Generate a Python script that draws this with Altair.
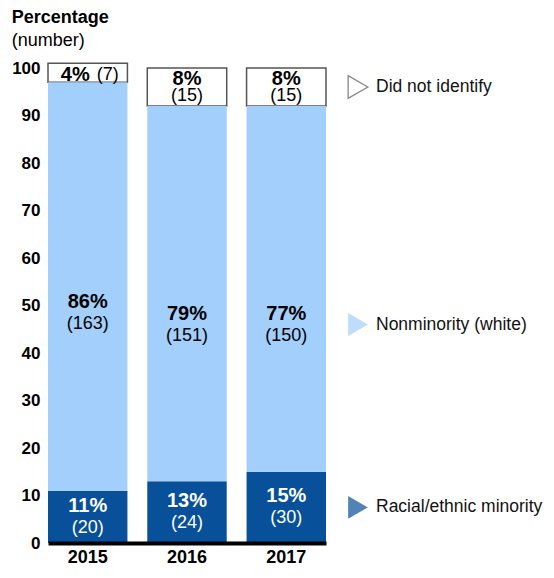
import altair as alt
import pandas as pd

years = ["2015", "2016", "2017"]
categories = ["Racial/ethnic minority", "Nonminority (white)", "Did not identify"]
minority_pct = [11, 13, 15]
minority_n = [20, 24, 30]
nonminority_pct = [86, 79, 77]
nonminority_n = [163, 151, 150]
dni_pct = [4, 8, 8]
dni_n = [7, 15, 15]
y_ticks = list(range(0, 101, 10))
colors = ["#08509a", "#a3cffc", "#ffffff"]

FONT = "Liberation Sans"

rows = []
for i, yr in enumerate(years):
    base = 0
    pcts = [minority_pct[i], nonminority_pct[i], dni_pct[i]]
    ns = [minority_n[i], nonminority_n[i], dni_n[i]]
    for order, (cat, p, n) in enumerate(zip(categories, pcts, ns)):
        rows.append(dict(year=yr, cat=cat, order=order, pct=p, n=n, y0=base, y1=base + p))
        base += p
df = pd.DataFrame(rows)
df["anchor"] = [(r.y1 / 2) if r.cat == "Nonminority (white)" else (r.y0 + r.y1) / 2 for r in df.itertuples()]
df["pct_label"] = df["pct"].astype(str) + "%"
df["n_label"] = "(" + df["n"].astype(str) + ")"

xax = alt.Axis(title=None, labelAngle=0, labelFont=FONT, labelFontSize=18, labelFontWeight="bold",
               labelColor="black", labelPadding=5, ticks=False, domainColor="black", domainWidth=4,
               zindex=1)
yax = alt.Axis(title=None, values=y_ticks, labelFont=FONT, labelFontSize=17, labelFontWeight="bold",
               labelColor="black", labelPadding=8, ticks=False, domain=False, grid=False)
xenc = alt.X("year:N", scale=alt.Scale(paddingInner=0.2, paddingOuter=0), axis=xax)
yscale = alt.Scale(domain=[0, 100], nice=False)
cscale = alt.Scale(domain=categories, range=colors)

base = alt.Chart(df)

dni_box = base.transform_filter(alt.datum.cat == "Did not identify").mark_bar(
    stroke="#555555", strokeWidth=1.5, fill="white"
).encode(x=xenc, y=alt.Y("y0:Q", scale=yscale, axis=yax), y2="y1:Q")

bars = base.transform_filter(alt.datum.cat != "Did not identify").mark_bar().encode(
    x=xenc,
    y=alt.Y("y0:Q", scale=yscale, axis=yax),
    y2="y1:Q",
    fill=alt.Fill("cat:N", scale=cscale, legend=None),
)

txtcolor = alt.condition(alt.datum.cat == "Racial/ethnic minority", alt.value("white"), alt.value("black"))

main = base.transform_filter(alt.datum.cat != "Did not identify")
pct_main = main.mark_text(font=FONT, fontSize=20, fontWeight="bold", dy=-11).encode(
    x=xenc, y=alt.Y("anchor:Q", scale=yscale, axis=yax), text="pct_label:N", color=txtcolor)
n_main = main.mark_text(font=FONT, fontSize=18, dy=11).encode(
    x=xenc, y=alt.Y("anchor:Q", scale=yscale, axis=yax), text="n_label:N", color=txtcolor)

dni_big = base.transform_filter((alt.datum.cat == "Did not identify") & (alt.datum.pct >= 5))
pct_dni = dni_big.mark_text(font=FONT, fontSize=20, fontWeight="bold", dy=-8, color="black").encode(
    x=xenc, y=alt.Y("anchor:Q", scale=yscale, axis=yax), text="pct_label:N")
n_dni = dni_big.mark_text(font=FONT, fontSize=18, dy=9, color="black").encode(
    x=xenc, y=alt.Y("anchor:Q", scale=yscale, axis=yax), text="n_label:N")

dni_small = base.transform_filter((alt.datum.cat == "Did not identify") & (alt.datum.pct < 5))
pct_small = dni_small.mark_text(font=FONT, fontSize=20, fontWeight="bold", align="right", dx=2, dy=2,
                                color="black").encode(
    x=xenc, y=alt.Y("anchor:Q", scale=yscale, axis=yax), text="pct_label:N")
n_small = dni_small.mark_text(font=FONT, fontSize=18, align="left", dx=9, dy=2, color="black").encode(
    x=xenc, y=alt.Y("anchor:Q", scale=yscale, axis=yax), text="n_label:N")

leg = base.transform_filter(alt.datum.year == years[-1])
leg_sym = leg.mark_point(shape="triangle-right", size=520, filled=True, strokeWidth=1.3).encode(
    x=alt.value(310),
    y=alt.Y("anchor:Q", scale=yscale, axis=yax),
    fill=alt.Fill("cat:N", scale=cscale, legend=None),
    stroke=alt.condition(alt.datum.cat == "Did not identify", alt.value("#555555"), alt.value("transparent")),
)
leg_txt = leg.mark_text(font=FONT, fontSize=17.5, align="left", color="#111111").encode(
    x=alt.value(328),
    y=alt.Y("anchor:Q", scale=yscale, axis=yax),
    text="cat:N",
)

chart = alt.layer(dni_box, bars, pct_main, n_main, pct_dni, n_dni, pct_small, n_small, leg_sym, leg_txt).properties(
    width=278,
    height=475,
    padding={"left": 40, "top": 60, "right": 220, "bottom": 23},
    autosize=alt.AutoSizeParams(type="none"),
    title=alt.TitleParams(
        "Percentage", subtitle=["(number)"], anchor="start", dx=0, offset=9,
        font=FONT, fontSize=18, fontWeight="bold", color="black",
        subtitleFont=FONT, subtitleFontSize=18, subtitleColor="black", subtitlePadding=5,
    ),
).configure_view(stroke=None)

chart.save("out.html", embed_options={"renderer": "svg", "actions": False})
